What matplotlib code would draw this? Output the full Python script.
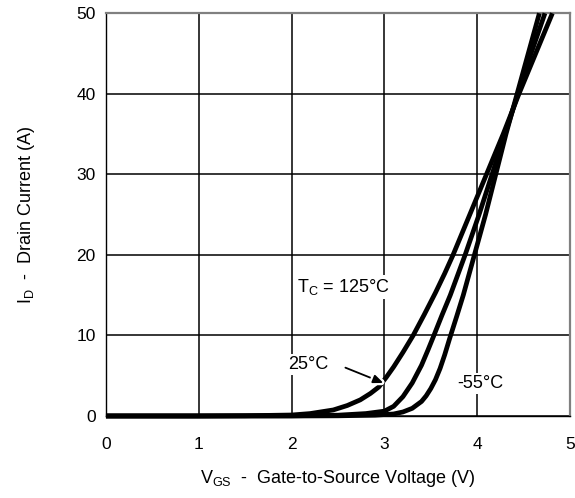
import matplotlib
matplotlib.use("Agg")
import matplotlib.pyplot as plt
import matplotlib.patheffects as pe

plt.rcParams['font.family'] = ['Liberation Sans', 'DejaVu Sans']
plt.rcParams['mathtext.fontset'] = 'custom'
plt.rcParams['mathtext.rm'] = 'Liberation Sans'
plt.rcParams['mathtext.it'] = 'Liberation Sans'

# Data (VGS in V, ID in A)
vgs_125 = [0.0, 1.0, 1.5, 2.0, 2.2, 2.45, 2.6, 2.74, 2.85, 2.94, 3.02, 3.1, 3.2, 3.31, 3.43, 3.55, 3.65, 3.74, 3.92, 4.10, 4.28, 4.45, 4.63, 4.81]
id_125 = [0.0, 0.0, 0.03, 0.12, 0.3, 0.75, 1.3, 2.0, 2.8, 3.6, 4.8, 6.1, 7.9, 10.0, 12.6, 15.3, 17.7, 20.0, 25.0, 30.0, 35.0, 40.0, 45.0, 50.0]

vgs_25 = [0.0, 1.0, 2.0, 2.5, 2.8, 3.0, 3.1, 3.2, 3.3, 3.4, 3.47, 3.53, 3.62, 3.71, 3.87, 4.02, 4.16, 4.30, 4.44, 4.58, 4.73]
id_25 = [0.0, 0.0, 0.02, 0.1, 0.3, 0.6, 1.2, 2.4, 4.1, 6.3, 8.2, 9.9, 12.5, 15.0, 20.0, 25.0, 30.0, 35.0, 40.0, 45.0, 50.0]

vgs_m55 = [0.0, 1.0, 2.0, 2.5, 2.9, 3.1, 3.2, 3.3, 3.4, 3.45, 3.5, 3.55, 3.6, 3.65, 3.7, 3.78, 3.85, 3.97, 4.09, 4.20, 4.31, 4.43, 4.55, 4.67]
id_m55 = [0.0, 0.0, 0.0, 0.02, 0.1, 0.25, 0.5, 0.95, 1.8, 2.5, 3.4, 4.5, 5.9, 7.6, 9.5, 12.4, 15.0, 20.0, 25.0, 30.0, 35.0, 40.0, 45.0, 50.0]

x_ticks = [0, 1, 2, 3, 4, 5]
y_ticks = [0, 10, 20, 30, 40, 50]

fig = plt.figure(figsize=(5.75, 4.98), dpi=100)
ax = fig.add_axes([0.1843, 0.1647, 0.807, 0.8086])

ax.set_xlim(0, 5)
ax.set_ylim(0, 50)
ax.set_xticks(x_ticks)
ax.set_yticks(y_ticks)
ax.grid(True, color='black', linewidth=1.1)
ax.tick_params(length=0, labelsize=12.5)
ax.tick_params(axis='x', pad=15)
ax.tick_params(axis='y', pad=7.5)
for s in ['left', 'bottom']:
    ax.spines[s].set_color('black')
    ax.spines[s].set_linewidth(1.0)
for s in ['top', 'right']:
    ax.spines[s].set_color('#808080')
    ax.spines[s].set_linewidth(1.6)

lw = 3.4
for xs, ys in [(vgs_125, id_125), (vgs_25, id_25), (vgs_m55, id_m55)]:
    ax.plot(xs, ys, color='black', lw=lw, solid_capstyle='butt', solid_joinstyle='round',
            clip_on=False, zorder=3)

ax.text(2.06, 16.0, "T$_\\mathrm{C}$ = 125°C", fontsize=13, va='center', ha='left', zorder=5,
        bbox=dict(facecolor='white', edgecolor='none', pad=1.5))
ax.text(1.96, 6.4, "25°C", fontsize=13, va='center', ha='left', zorder=5,
        bbox=dict(facecolor='white', edgecolor='none', pad=1.5))
ax.text(3.79, 4.0, "-55°C", fontsize=13, va='center', ha='left', zorder=5,
        bbox=dict(facecolor='white', edgecolor='none', pad=1.5))
ann = ax.annotate("", xy=(2.99, 4.1), xytext=(2.58, 6.0),
                  arrowprops=dict(arrowstyle='-|>,head_length=0.6,head_width=0.25', color='black', lw=1.3,
                                  shrinkA=0, shrinkB=0), zorder=6)
ann.arrow_patch.set_path_effects([pe.withStroke(linewidth=4.5, foreground='white')])

ax.set_xlabel("V$_\\mathrm{GS}$  -  Gate-to-Source Voltage (V)", fontsize=13, labelpad=12)
ax.set_ylabel("I$_\\mathrm{D}$  -  Drain Current (A)", fontsize=13, labelpad=28)

fig.savefig("out.png", dpi=100)
